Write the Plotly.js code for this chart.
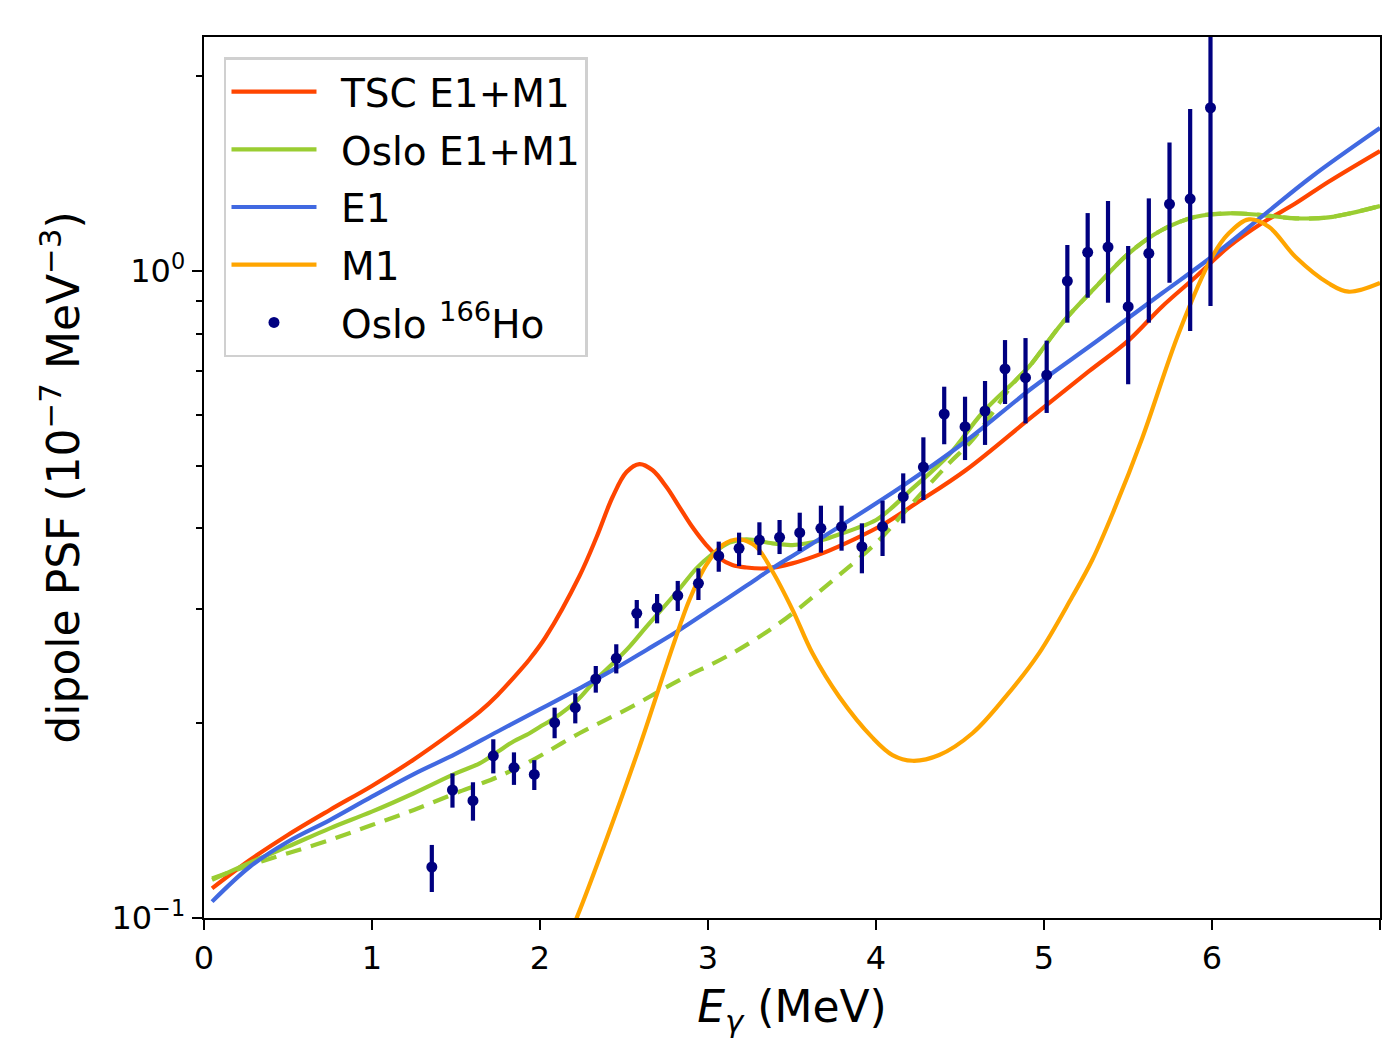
<!DOCTYPE html>
<html>
<head>
<meta charset="utf-8">
<script src="https://cdn.plot.ly/plotly-3.0.1.min.js"></script>
<style>
  html, body { margin: 0; padding: 0; background: #ffffff; }
  #chart { width: 1382px; height: 1042px; }
</style>
</head>
<body>
<div id="chart"></div>
<script>
// ---- Data (E in MeV, PSF in 1e-7 MeV^-3) ----
const tscE = [0.048,0.273,0.499,0.749,0.999,1.249,1.498,1.641,1.748,1.879,1.938,2.033,2.235,2.337,2.432,2.515,2.592,2.669,2.753,2.830,2.907,2.990,3.068,3.145,3.228,3.347,3.502,3.680,3.882,4.037,4.239,4.536,4.929,5.268,5.505,5.702,5.904,6.100,6.296,6.498,6.694,7.000];
const tscPSF = [0.1111,0.1229,0.1344,0.1469,0.1600,0.1758,0.1953,0.2084,0.2212,0.2410,0.2512,0.2716,0.3378,0.3880,0.4474,0.4890,0.5031,0.4925,0.4636,0.4317,0.4020,0.3771,0.3600,0.3512,0.3481,0.3471,0.3533,0.3661,0.3862,0.4049,0.4375,0.4925,0.5954,0.7000,0.7821,0.8808,0.9799,1.0904,1.1849,1.2725,1.3740,1.533];

const osloE = [0.048,0.273,0.499,0.749,0.999,1.249,1.498,1.641,1.748,1.837,1.938,1.998,2.087,2.224,2.331,2.455,2.533,2.634,2.830,2.931,3.026,3.127,3.228,3.383,3.502,3.680,3.799,3.882,4.001,4.079,4.197,4.435,4.631,4.834,4.911,5.107,5.309,5.505,5.702,5.904,6.100,6.296,6.498,6.694,7.000];
const osloPSF = [0.1145,0.1218,0.1289,0.1376,0.1460,0.1559,0.1673,0.1734,0.1807,0.1871,0.1930,0.1973,0.2038,0.2173,0.2332,0.2505,0.2627,0.2820,0.3225,0.3471,0.3652,0.3803,0.3849,0.3794,0.3771,0.3839,0.3932,0.4002,0.4123,0.4272,0.4560,0.5200,0.6028,0.6786,0.7113,0.8302,0.9456,1.0651,1.1571,1.2131,1.2280,1.2205,1.2063,1.2105,1.2604];

const osloNoSciE = [0.048,0.273,0.499,0.749,0.999,1.249,1.498,1.641,1.748,1.938,2.235,2.533,2.830,3.127,3.424,3.722,4.019,4.197,4.435,4.574,4.834,4.911,5.107,5.309,5.505,5.702,5.904,6.100,6.296,6.498,6.694,7.000];
const osloNoSciPSF = [0.1151,0.1207,0.1259,0.1320,0.1392,0.1469,0.1559,0.1610,0.1652,0.1744,0.1930,0.2113,0.2332,0.2550,0.2854,0.3291,0.3839,0.4322,0.5044,0.5482,0.6786,0.7113,0.8302,0.9456,1.0651,1.1571,1.2131,1.2280,1.2205,1.2063,1.2105,1.2604];

const e1E = [0.048,0.273,0.499,0.749,0.999,1.249,1.498,1.748,1.998,2.235,2.432,2.634,2.830,3.026,3.228,3.383,3.543,3.781,4.138,4.536,4.929,5.309,5.702,5.999,6.296,6.593,7.000];
const e1PSF = [0.1060,0.1200,0.1312,0.1417,0.1540,0.1669,0.1793,0.1942,0.2101,0.2265,0.2416,0.2596,0.2787,0.3011,0.3262,0.3471,0.3683,0.4025,0.4614,0.5460,0.6594,0.7775,0.9238,1.0522,1.2131,1.3987,1.6634];

const m1E = [2.100,2.218,2.394,2.592,2.790,2.889,2.989,3.087,3.187,3.286,3.385,3.504,3.622,3.781,3.979,4.098,4.217,4.376,4.574,4.772,4.970,5.168,5.287,5.416,5.585,5.803,6.001,6.100,6.219,6.338,6.496,6.694,6.813,7.000];
const m1PSF = [0.0850,0.1000,0.1320,0.1839,0.2627,0.3101,0.3512,0.3771,0.3849,0.3749,0.3429,0.2992,0.2565,0.2198,0.1900,0.1786,0.1750,0.1786,0.1930,0.2198,0.2565,0.3137,0.3575,0.4266,0.5520,0.8030,1.0522,1.1436,1.2019,1.1707,1.0522,0.9572,0.9290,0.9582];

const dataE = [1.356,1.479,1.601,1.722,1.845,1.966,2.087,2.210,2.332,2.454,2.576,2.697,2.820,2.943,3.064,3.185,3.306,3.426,3.546,3.672,3.795,3.916,4.039,4.162,4.282,4.406,4.530,4.649,4.768,4.890,5.016,5.139,5.260,5.381,5.501,5.624,5.747,5.870,5.991];
const dataPSF = [0.1199,0.1577,0.1518,0.1781,0.1708,0.1667,0.2004,0.2114,0.2341,0.2520,0.2958,0.3018,0.3150,0.3291,0.3627,0.3727,0.3839,0.3876,0.3940,0.4002,0.4025,0.3749,0.4025,0.4479,0.4978,0.6012,0.5746,0.6076,0.7057,0.6840,0.6906,0.9650,1.0688,1.0891,0.8807,1.0651,1.269,1.293,1.788];
const dataHigh = [0.1297,0.1673,0.1621,0.1889,0.1803,0.1754,0.2114,0.2225,0.2452,0.2649,0.3101,0.3168,0.3319,0.3471,0.3817,0.3941,0.4089,0.4123,0.4231,0.4338,0.4338,0.4074,0.4416,0.4867,0.5533,0.6625,0.6393,0.6761,0.7821,0.7877,0.7805,1.097,1.229,1.283,1.093,1.295,1.580,1.780,2.600];
const dataLow = [0.1097,0.1481,0.1414,0.1673,0.1606,0.1577,0.1896,0.1999,0.2230,0.2388,0.2804,0.2854,0.2982,0.3101,0.3429,0.3499,0.3639,0.3652,0.3691,0.3670,0.3696,0.3410,0.3627,0.4074,0.4427,0.5398,0.5103,0.5385,0.6229,0.5815,0.6034,0.8320,0.9094,0.8933,0.6682,0.8320,0.9592,0.8078,0.8829];

const yTickVals = [0.1, 1];
const yTickText = ['10<sup>\u22121</sup>', '10<sup>0</sup>'];
const yMinorVals = [0.2,0.3,0.4,0.5,0.6,0.7,0.8,0.9,2];
const xTickVals = [0,1,2,3,4,5,6,7];

// ---- Traces ----
const errPlus = dataHigh.map((h, i) => h - dataPSF[i]);
const errMinus = dataLow.map((l, i) => dataPSF[i] - l);
const gap = '\u2002';
const smooth = {shape: 'spline', smoothing: 1};

const traces = [
  {x: tscE, y: tscPSF, mode: 'lines', name: gap + 'TSC E1+M1', legendgroup: 'a',
   line: Object.assign({color: '#FF4500', width: 4.2}, smooth)},
  {x: osloNoSciE, y: osloNoSciPSF, mode: 'lines', name: 'Oslo E1+M1 (no SR)', showlegend: false, legendgroup: 'b2',
   line: Object.assign({color: '#9ACD32', width: 4.2, dash: '16px,10px'}, smooth)},
  {x: osloE, y: osloPSF, mode: 'lines', name: gap + 'Oslo E1+M1', legendgroup: 'b',
   line: Object.assign({color: '#9ACD32', width: 4.2}, smooth)},
  {x: e1E, y: e1PSF, mode: 'lines', name: gap + 'E1', legendgroup: 'c',
   line: Object.assign({color: '#4169E1', width: 4.2}, smooth)},
  {x: m1E, y: m1PSF, mode: 'lines', name: gap + 'M1', legendgroup: 'd',
   line: Object.assign({color: '#FFA500', width: 4.2}, smooth)},
  {x: dataE, y: dataPSF, mode: 'markers', name: gap + 'Oslo <sup>166</sup>Ho', legendgroup: 'e',
   marker: {color: '#000080', size: 11},
   error_y: {type: 'data', symmetric: false, array: errPlus, arrayminus: errMinus,
             color: '#000080', thickness: 4.2, width: 0}}
];

const font = 'DejaVu Sans, Liberation Sans, sans-serif';
const layout = {
  width: 1382, height: 1042,
  margin: {l: 204, r: 2, t: 37, b: 124, pad: 0},
  paper_bgcolor: '#ffffff', plot_bgcolor: '#ffffff',
  font: {family: font, color: '#000000'},
  showlegend: true,
  legend: {
    x: 0.017, y: 0.977, xanchor: 'left', yanchor: 'top',
    bgcolor: 'rgba(255,255,255,0.8)', bordercolor: '#d0d0d0', borderwidth: 2.5,
    font: {family: font, size: 39, color: '#000000'},
    traceorder: 'grouped', tracegroupgap: 4, itemwidth: 85
  },
  xaxis: {
    range: [0, 7], tickvals: xTickVals, ticks: 'outside', ticklen: 10, tickwidth: 2.4, tickcolor: '#000',
    showline: true, linecolor: '#000', linewidth: 2.4, mirror: true,
    showgrid: false, zeroline: false,
    tickfont: {family: font, size: 32, color: '#000'},
    title: {text: '<i>E</i><sub><i>\u03b3</i></sub> (MeV)', font: {family: font, size: 44, color: '#000'}, standoff: 16}
  },
  yaxis: {
    type: 'log', range: [-1, 0.3617],
    tickvals: yTickVals, ticktext: yTickText, ticks: 'outside', ticklen: 10, tickwidth: 2.4, tickcolor: '#000',
    minor: {tickvals: yMinorVals, ticks: 'outside', ticklen: 6, tickwidth: 2, tickcolor: '#000', showgrid: false},
    showline: true, linecolor: '#000', linewidth: 2.4, mirror: true,
    showgrid: false, zeroline: false,
    tickfont: {family: font, size: 32, color: '#000'},
    title: {text: 'dipole PSF (10<sup>\u22127</sup> MeV<sup>\u22123</sup>)', font: {family: font, size: 44, color: '#000'}, standoff: 18}
  }
};

Plotly.newPlot('chart', traces, layout, {displayModeBar: false, staticPlot: true});
</script>
</body>
</html>
